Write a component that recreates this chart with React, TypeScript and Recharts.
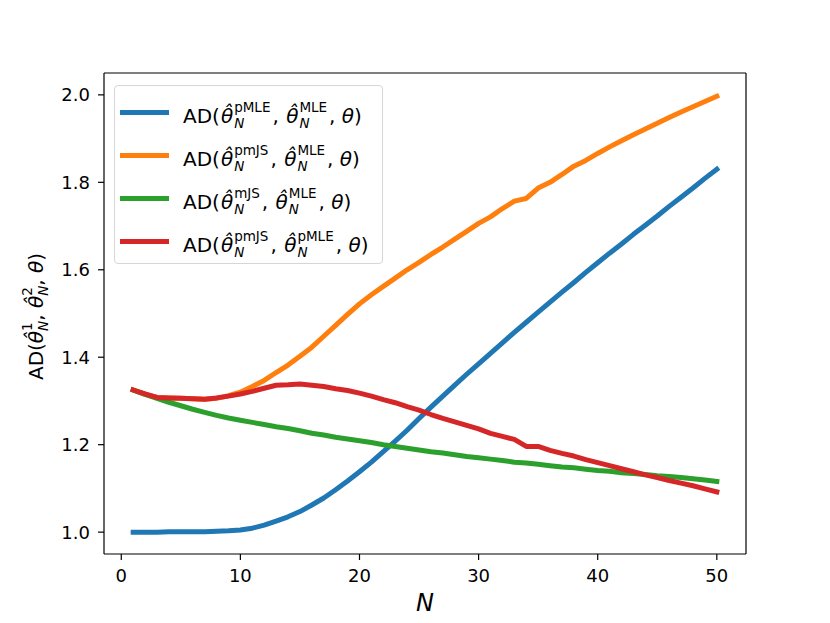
import { LineChart, Line, XAxis, YAxis, Legend, ReferenceLine } from "recharts";

const nValues = [
  1, 2, 3, 4, 5, 6, 7, 8, 9, 10, 11, 12, 13, 14, 15, 16, 17, 18, 19, 20, 21, 22, 23, 24, 25,
  26, 27, 28, 29, 30, 31, 32, 33, 34, 35, 36, 37, 38, 39, 40, 41, 42, 43, 44, 45, 46, 47, 48, 49, 50,
];

// AD(pMLE, MLE)
const pmleVsMle = [
  1.0, 1.0, 1.0, 1.001, 1.001, 1.001, 1.001, 1.002, 1.003, 1.005, 1.009, 1.016, 1.025, 1.035, 1.047,
  1.062, 1.078, 1.097, 1.117, 1.138, 1.16, 1.184, 1.208, 1.233, 1.26, 1.286, 1.311, 1.336, 1.361, 1.385,
  1.409, 1.433, 1.457, 1.48, 1.503, 1.526, 1.549, 1.571, 1.594, 1.616, 1.638, 1.659, 1.681, 1.702, 1.723,
  1.745, 1.766, 1.787, 1.809, 1.83,
];

// AD(pmJS, MLE)
const pmjsVsMle = [
  1.325, 1.315, 1.308, 1.307, 1.306, 1.305, 1.304, 1.306, 1.312, 1.32, 1.333, 1.347, 1.365, 1.382, 1.402,
  1.423, 1.448, 1.473, 1.498, 1.522, 1.543, 1.562, 1.581, 1.6, 1.617, 1.635, 1.652, 1.67, 1.688, 1.706,
  1.721, 1.74, 1.757, 1.763, 1.787, 1.8, 1.818, 1.837, 1.85, 1.866, 1.881, 1.895, 1.909, 1.922, 1.935,
  1.948, 1.961, 1.973, 1.985, 1.997,
];

// AD(mJS, MLE)
const mjsVsMle = [
  1.325, 1.315, 1.306, 1.297, 1.289, 1.281, 1.274, 1.267, 1.261, 1.256, 1.251, 1.246, 1.241, 1.237, 1.232,
  1.226, 1.222, 1.217, 1.213, 1.209, 1.205, 1.2, 1.196, 1.192, 1.188, 1.184, 1.181, 1.177, 1.173, 1.17,
  1.167, 1.164, 1.16, 1.158, 1.155, 1.152, 1.149, 1.147, 1.144, 1.141, 1.139, 1.136, 1.134, 1.132, 1.129,
  1.127, 1.125, 1.122, 1.119, 1.116,
];

// AD(pmJS, pMLE)
const pmjsVsPmle = [
  1.325, 1.316, 1.308, 1.307, 1.306, 1.305, 1.304, 1.307, 1.311, 1.316, 1.322, 1.329, 1.336, 1.337, 1.339,
  1.336, 1.333, 1.328, 1.324, 1.318, 1.311, 1.303, 1.296, 1.287, 1.279, 1.269, 1.26, 1.252, 1.244, 1.236,
  1.226, 1.219, 1.212, 1.196, 1.196, 1.187, 1.18, 1.174, 1.166, 1.159, 1.152, 1.145, 1.138, 1.131, 1.125,
  1.118, 1.112, 1.106, 1.099, 1.092,
];

const xTicks = [0, 10, 20, 30, 40, 50];
const yTicks = [1.0, 1.2, 1.4, 1.6, 1.8, 2.0];

const series = [
  { key: "pmleMle", values: pmleVsMle, color: "#1f77b4", first: "pMLE", second: "MLE" },
  { key: "pmjsMle", values: pmjsVsMle, color: "#ff7f0e", first: "pmJS", second: "MLE" },
  { key: "mjsMle", values: mjsVsMle, color: "#2ca02c", first: "mJS", second: "MLE" },
  { key: "pmjsPmle", values: pmjsVsPmle, color: "#d62728", first: "pmJS", second: "pMLE" },
];

const chartData = nValues.map((n, i) => {
  const row: Record<string, number> = { n };
  series.forEach((s) => {
    row[s.key] = s.values[i];
  });
  return row;
});

const FONT = "'DejaVu Sans', sans-serif";
const xDomain = [-1.45, 52.45];
const yDomain = [0.95, 2.05];

// theta-hat with stacked superscript / subscript N
function ThetaHat({ sup }: { sup: string }) {
  return (
    <span style={{ whiteSpace: "nowrap", marginLeft: 1 }}>
      <span style={{ fontStyle: "italic" }}>θ̂</span>
      <span
        style={{
          display: "inline-flex",
          flexDirection: "column",
          verticalAlign: "11px",
          fontSize: 13.5,
          lineHeight: "16px",
          marginLeft: 1,
          marginRight: 2,
        }}
      >
        <span>{sup}</span>
        <span style={{ fontStyle: "italic" }}>N</span>
      </span>
    </span>
  );
}

function LegendBox() {
  return (
    <div
      style={{
        boxSizing: "border-box",
        width: 269,
        height: 179,
        border: "1px solid #d6d6d6",
        borderRadius: 4,
        background: "rgba(255,255,255,0.8)",
        paddingTop: 5,
        fontFamily: FONT,
        fontSize: 20,
        color: "#000",
      }}
    >
      {series.map((s) => (
        <div key={s.key} style={{ display: "flex", alignItems: "center", height: 43 }}>
          <span style={{ width: 49, height: 5, background: s.color, marginLeft: 5, marginRight: 14 }} />
          <span style={{ lineHeight: "20px", marginTop: 4 }}>
            AD(
            <ThetaHat sup={s.first} />
            , <ThetaHat sup={s.second} />, <span style={{ fontStyle: "italic" }}>θ</span>)
          </span>
        </div>
      ))}
    </div>
  );
}

function YTitle(props: any) {
  const vb = props.viewBox || { x: 20, y: 73, width: 84, height: 481 };
  const bx = vb.x + 23;
  const cy = vb.y + vb.height / 2 + 3;
  return (
    <text
      x={bx}
      y={cy}
      transform={`rotate(-90, ${bx}, ${cy})`}
      textAnchor="middle"
      fontFamily={FONT}
      fontSize={20}
      fill="#000"
    >
      AD(
      <tspan fontStyle="italic">θ̂</tspan>
      <tspan fontSize={13.5} dy={-11}>1</tspan>
      <tspan fontSize={13.5} fontStyle="italic" dx={-8.6} dy={16}>N</tspan>
      <tspan dy={-5}>, </tspan>
      <tspan fontStyle="italic">θ̂</tspan>
      <tspan fontSize={13.5} dy={-11}>2</tspan>
      <tspan fontSize={13.5} fontStyle="italic" dx={-8.6} dy={16}>N</tspan>
      <tspan dy={-5}>, </tspan>
      <tspan fontStyle="italic">θ</tspan>)
    </text>
  );
}

function XTitle(props: any) {
  const vb = props.viewBox || { x: 104, y: 554, width: 642, height: 69 };
  return (
    <text
      x={vb.x + vb.width / 2}
      y={vb.y + 57}
      textAnchor="middle"
      fontFamily={FONT}
      fontSize={24}
      fontStyle="italic"
      fill="#000"
    >
      N
    </text>
  );
}

const tickStyle = { fontSize: 18, fill: "#000", fontFamily: FONT };
const axisStroke = { stroke: "#000", strokeWidth: 1.2 };

export default function App() {
  return (
    <div style={{ position: "absolute", left: 0, top: 0, width: 830, height: 623, background: "#fff" }}>
      <LineChart width={830} height={623} data={chartData} margin={{ top: 73, right: 84, bottom: 0, left: 20 }}>
        <XAxis
          dataKey="n"
          type="number"
          domain={xDomain}
          ticks={xTicks}
          allowDataOverflow
          height={69}
          tickSize={6}
          tickMargin={9}
          tick={tickStyle}
          axisLine={axisStroke}
          tickLine={axisStroke}
          label={<XTitle />}
        />
        <YAxis
          type="number"
          domain={yDomain}
          ticks={yTicks}
          allowDataOverflow
          width={84}
          tickSize={6}
          tickMargin={8}
          tick={tickStyle}
          tickFormatter={(v: number) => v.toFixed(1)}
          axisLine={axisStroke}
          tickLine={axisStroke}
          label={<YTitle />}
        />
        {/* top and right spines of the axes frame */}
        <ReferenceLine y={yDomain[1]} stroke="#000" strokeWidth={1.2} ifOverflow="visible" />
        <ReferenceLine x={xDomain[1]} stroke="#000" strokeWidth={1.2} ifOverflow="visible" />
        <Legend
          layout="horizontal"
          verticalAlign="middle"
          align="center"
          wrapperStyle={{ left: 114, top: 85, width: 269, height: 179 }}
          content={() => <LegendBox />}
        />
        {series.map((s) => (
          <Line
            key={s.key}
            dataKey={s.key}
            type="linear"
            stroke={s.color}
            strokeWidth={5}
            strokeLinecap="square"
            strokeLinejoin="round"
            dot={false}
            activeDot={false}
            isAnimationActive={false}
          />
        ))}
      </LineChart>
    </div>
  );
}
